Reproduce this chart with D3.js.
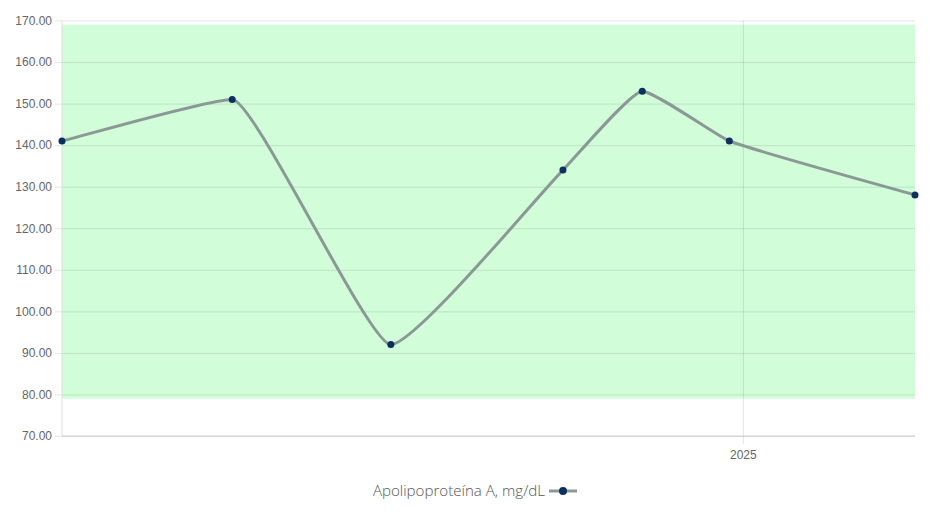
<!DOCTYPE html>
<html><head><meta charset="utf-8">
<script src="https://cdn.jsdelivr.net/npm/d3@7"></script>
<style>body{margin:0;background:#fff}svg{display:block}</style>
</head><body>
<svg id="c" width="936" height="518"></svg>
<script>
const dates = ["2024-01-15","2024-04-12","2024-07-03","2024-09-30","2024-11-10","2024-12-25","2025-03-31"];
const values = [141, 151, 92, 134, 153, 141, 128];
const yTicks = [70,80,90,100,110,120,130,140,150,160,170];
const xTickLabels = ["2025"];
const refRange = [79, 169];
const seriesName = "Apolipoproteína A, mg/dL";

const parse = d3.timeParse("%Y-%m-%d");
const data = dates.map((d,i)=>({x:parse(d), y:values[i]}));
const svg = d3.select("#c");
const L=62, R=915, T=20.5, B=436;
const x = d3.scaleTime().domain(d3.extent(data,d=>d.x)).range([L,R]);
const y = d3.scaleLinear().domain([70,170]).range([B,T]);
const font = "'Liberation Sans', Arial, sans-serif";

// reference band
svg.append("rect").attr("x",L).attr("width",R-L)
  .attr("y",y(refRange[1])).attr("height",y(refRange[0])-y(refRange[1]))
  .attr("fill","#d1fdd9");

// y axis grid
const ya = d3.axisLeft(y).tickValues(yTicks).tickFormat(d3.format(".2f")).tickSize(-(R-L)).tickPadding(10);
const gy = svg.append("g").attr("transform",`translate(${L},0)`).call(ya);
gy.select(".domain").remove();
gy.selectAll(".tick line").attr("x1",-7).attr("x2",R-L).attr("stroke","rgba(0,0,0,0.1)");
gy.selectAll(".tick text").attr("font-family",font).attr("font-size",12).attr("fill","#666").attr("x",-10);

// x axis
const xTicks = xTickLabels.map(s=>d3.timeParse("%Y")(s));
const xa = d3.axisBottom(x).tickValues(xTicks).tickFormat(d3.timeFormat("%Y")).tickSize(8).tickPadding(6);
const gx = svg.append("g").attr("transform",`translate(0,${B})`).call(xa);
gx.select(".domain").remove();
gx.selectAll(".tick line").attr("y1",-(B-T)).attr("y2",8).attr("stroke","rgba(0,0,0,0.1)");
gx.selectAll(".tick text").attr("font-family",font).attr("font-size",12).attr("fill","#666");

// axis lines
svg.append("line").attr("x1",L).attr("x2",L).attr("y1",T).attr("y2",B).attr("stroke","#ddd");
svg.append("line").attr("x1",L).attr("x2",R).attr("y1",B).attr("y2",B).attr("stroke","#ccc");

// lightly smoothed monotone curve
const pts = data.map(d=>[x(d.x), y(d.y)]);
const n = pts.length;
const sec = [];
for (let i=0;i<n-1;i++) sec.push((pts[i+1][1]-pts[i][1])/(pts[i+1][0]-pts[i][0]));
const m = pts.map((p,i)=>{
  if (i===0) return sec[0];
  if (i===n-1) return sec[n-2];
  const a=sec[i-1], b=sec[i];
  if (a*b<=0) return 0;
  return 2/(1/a+1/b);
});
const k = 0.14;
const path = d3.path();
path.moveTo(pts[0][0], pts[0][1]);
for (let i=1;i<n;i++){
  const dx = pts[i][0]-pts[i-1][0];
  const h = dx*k;
  path.bezierCurveTo(pts[i-1][0]+h, pts[i-1][1]+m[i-1]*h, pts[i][0]-h, pts[i][1]-m[i]*h, pts[i][0], pts[i][1]);
}
svg.append("path").attr("d",path.toString()).attr("fill","none")
  .attr("stroke","#8a9996").attr("stroke-width",3);
svg.selectAll("circle.pt").data(data).join("circle").attr("class","pt")
  .attr("cx",d=>x(d.x)).attr("cy",d=>y(d.y)).attr("r",3.5).attr("fill","#0b2f5e");

// legend
const lg = svg.append("g");
lg.append("text").attr("x",545).attr("y",496).attr("text-anchor","end")
  .attr("font-family","'Open Sans', sans-serif").attr("font-weight",300).attr("font-size",15.1).attr("fill","#555")
  .text(seriesName);
lg.append("line").attr("x1",549).attr("x2",577).attr("y1",491).attr("y2",491).attr("stroke","#8a9996").attr("stroke-width",3);
lg.append("circle").attr("cx",563).attr("cy",491).attr("r",4).attr("fill","#0b2f5e");
</script>
</body></html>
